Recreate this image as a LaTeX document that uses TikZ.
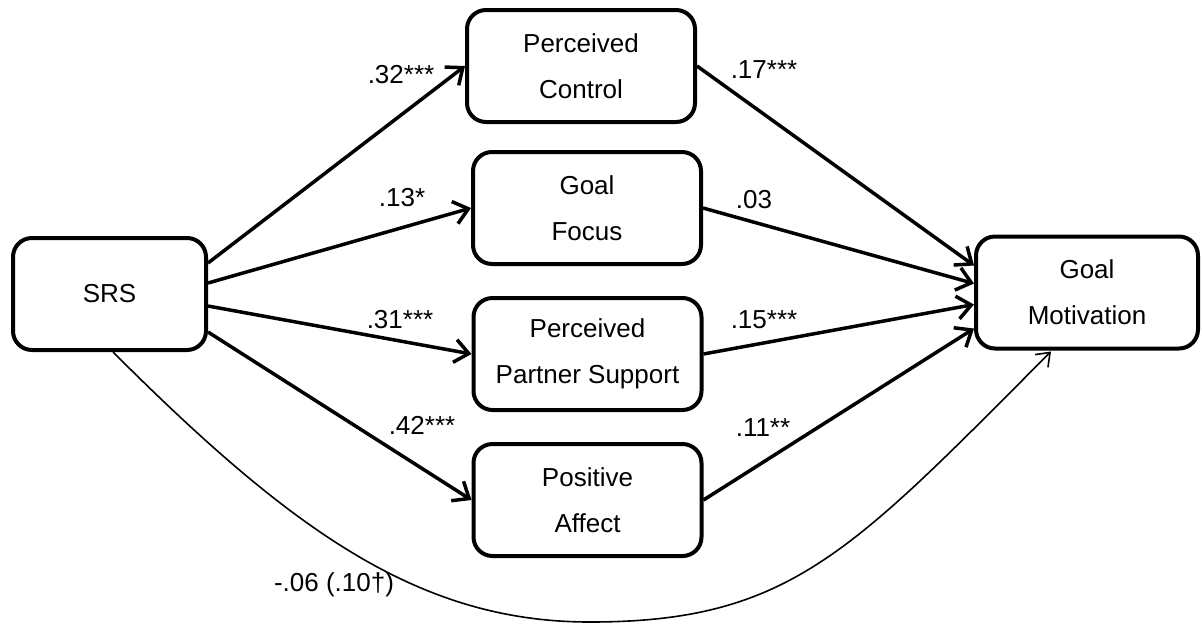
\documentclass[tikz,border=0pt]{standalone}
\usepackage{fontspec}
\setmainfont{Liberation Sans}
\usetikzlibrary{arrows.meta}

\begin{document}
\begin{tikzpicture}[x=1pt,y=-1pt,
        box/.style={draw,line width=4pt,rounded corners=19pt,minimum width=228pt,minimum height=112pt,
            align=center,font=\fontsize{26}{46}\selectfont},
        path/.style={line width=3.5pt,-{Straight Barb[length=14pt,width=23pt]}},
        coef/.style={font=\fontsize{26}{30}\selectfont}]
        \useasboundingbox (0,0) rectangle (1202,625);
        % boxes
        \node[box,minimum width=193pt] (srs) at (109.5,294) {SRS};
        \node[box] (pc) at (581,66) {Perceived\\Control};
        \node[box] (gf) at (587,208) {Goal\\Focus};
        \node[box] (pps) at (587.5,354) {Perceived\\Partner Support};
        \node[box] (pa) at (587.5,500) {Positive\\Affect};
        \node[box,minimum width=222pt] (gm) at (1087,292.5) {Goal\\Motivation};
        % a paths
        \draw[path] ([yshift=31pt]srs.east) -- (pc.west);
        \draw[path] ([yshift=11pt]srs.east) -- (gf.west);
        \draw[path] ([yshift=-12pt]srs.east) -- (pps.west);
        \draw[path] ([yshift=-38pt]srs.east) -- (pa.west);
        % b paths
        \draw[path] (pc.east) -- ([yshift=27pt]gm.west);
        \draw[path] (gf.east) -- ([yshift=9pt]gm.west);
        \draw[path] (pps.east) -- ([yshift=-12pt]gm.west);
        \draw[path] (pa.east) -- ([yshift=-36pt]gm.west);
        % direct path
        \coordinate (low) at (590,622);
        \draw[line width=1.6pt] ([xshift=3.5pt]srs.south) .. controls (293,532) and (420,622) .. (low);
        \draw[line width=1.6pt,-{Straight Barb[length=12pt,width=18pt]}]
            (low) .. controls (790,622) and (851,552) .. ([xshift=-36pt,yshift=-1pt]gm.south);
        % coefficients
        \node[coef] (c1) at (401,75) {.32***};
        \node[coef] (c2) at (402,198) {.13*};
        \node[coef] (c3) at (400,320) {.31***};
        \node[coef] (c4) at (422,425) {.42***};
        \node[coef] (c5) at (764,70) {.17***};
        \node[coef] (c6) at (754,200) {.03};
        \node[coef] (c7) at (764,320) {.15***};
        \node[coef] (c8) at (763,428) {.11**};
        \node[coef] (c9) at (334,585) {-.06 (.10†)};
\end{tikzpicture}
\end{document}
